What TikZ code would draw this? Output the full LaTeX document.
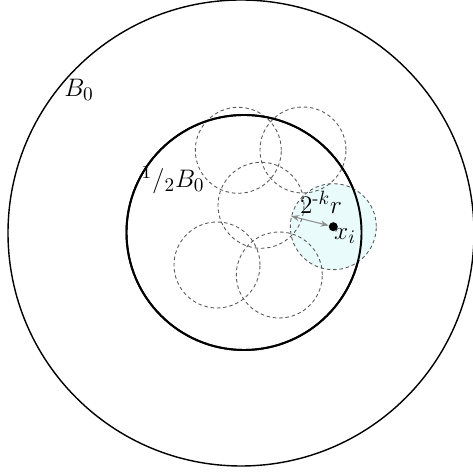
\documentclass[tikz,border=0pt]{standalone}
\usepackage{amsmath,amssymb}
\usepackage{tikz}
\usetikzlibrary{arrows.meta,positioning}
\definecolor{ballfill}{RGB}{234,251,251}

\begin{document}
\begin{tikzpicture}[
  bigball/.style={draw, circle, line width=0.8pt, inner sep=0pt},
  smallball/.style={draw=black!65, dash pattern=on 2pt off 1.6pt, circle, line width=0.5pt,
  minimum size=1.72cm, inner sep=0pt},
  lbl/.style={inner sep=0pt, font=\fontsize{15}{17}\selectfont},
  radarrow/.style={{Stealth[length=1.6mm]}-{Stealth[length=1.6mm]}, black!45, line width=0.6pt}
]
  \useasboundingbox (0,0) rectangle (9.46,9.44);
  \node[bigball, minimum size=9.32cm] (outer) at (4.82,4.78) {};
  \node[bigball, line width=1.1pt, minimum size=4.70cm] (inner) at (4.88,4.79) {};
  % covering balls
  \node[smallball, fill=ballfill] (c6) at (6.666,4.906) {};
  \node[smallball] (c1) at (4.766,6.434) {};
  \node[smallball] (c2) at (6.06,6.44) {};
  \node[smallball] (c3) at (5.22,5.334) {};
  \node[smallball] (c4) at (4.34,4.14) {};
  \node[smallball] (c5) at (5.586,3.94) {};
  \node[bigball, line width=1.1pt, minimum size=4.70cm] at (inner) {};
  \node[fill, circle, inner sep=0pt, minimum size=1.8mm] (xi) at (c6) {};
  \draw[radarrow] (xi) -- (c6.166);
  % labels
  \node[lbl] (b0) at (1.58,7.64) {$B_0$};
  \node[lbl] (halfb0) at (3.46,5.84) {$^1/_2B_0$};
  \node[lbl] (rad) at (6.42,5.4) {$2^{\text{-}k}r$};
  \node[lbl] (xil) at (6.9,4.72) {$x_i$};
\end{tikzpicture}
\end{document}
